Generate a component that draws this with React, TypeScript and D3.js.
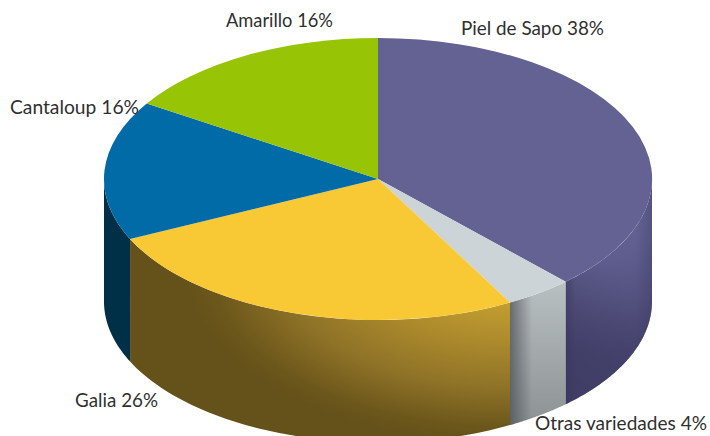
import React from "react";
import * as d3 from "d3";

const categories = ["Piel de Sapo", "Otras variedades", "Galia", "Cantaloup", "Amarillo"];
const values = [38, 4, 26, 16, 16];
const topColors = ["#636293", "#ccd4d8", "#f9c935", "#006ba6", "#98c406"];
const sideColors = ["#454368", "#8f9699", "#65521a", "#002f48", "#5f7a04"];
const labelX = [461, 535, 75, 10, 226];
const labelY = [35, 430, 407, 114, 27];
const labelW = [143, 172, 83, 129, 107];

const cx = 378, cy = 179, rx = 274, ry = 141, depth = 122.5;

const pie = d3.pie<number>().sort(null)(values);
const px = d3.scaleLinear().domain([-1, 1]).range([cx - rx, cx + rx]);
const py = d3.scaleLinear().domain([-1, 1]).range([cy - ry, cy + ry]);
const arcTop = d3.arc<d3.PieArcDatum<number>>().innerRadius(0).outerRadius(1);

function sidePath(a0: number, a1: number) {
  const s = Math.max(a0, Math.PI / 2);
  const e = Math.min(a1, (3 * Math.PI) / 2);
  if (e <= s) return null;
  const ang = d3.range(0, 61).map((i) => s + ((e - s) * i) / 60);
  const top = ang.map((a) => [px(Math.sin(a)), py(-Math.cos(a))] as [number, number]);
  const bot = ang.slice().reverse().map((a) => [px(Math.sin(a)), py(-Math.cos(a)) + depth] as [number, number]);
  return d3.line()([...top, ...bot]) + "Z";
}

export default function App() {
  return (
    <svg width={710} height={436} style={{ position: "absolute", left: 0, top: 0, display: "block" }}>
      <defs>
        <radialGradient id="g2" gradientUnits="userSpaceOnUse" cx={505} cy={265} r={320} gradientTransform="translate(505 265) scale(1 0.55) translate(-505 -265)">
          <stop offset="0" stopColor="#d8b035" />
          <stop offset="0.43" stopColor="#ad8b2c" />
          <stop offset="0.69" stopColor="#8f7327" />
          <stop offset="0.92" stopColor="#6c571b" />
          <stop offset="1" stopColor="#65521a" />
        </radialGradient>
        <linearGradient id="g1v" x1="0" y1="0" x2="0" y2="1">
          <stop offset="0" stopColor="#b9c0c2" />
          <stop offset="1" stopColor="#8c9294" />
        </linearGradient>
        <linearGradient id="g1h" gradientUnits="userSpaceOnUse" x1={510} x2={532} y1={0} y2={0}>
          <stop offset="0" stopColor="#454b4e" stopOpacity={0.7} />
          <stop offset="1" stopColor="#454b4e" stopOpacity={0} />
        </linearGradient>
        <linearGradient id="g0" gradientUnits="userSpaceOnUse" x1={640} y1={215} x2={535} y2={360}>
          <stop offset="0" stopColor="#636293" />
          <stop offset="0.35" stopColor="#5e5c8c" />
          <stop offset="0.55" stopColor="#575582" />
          <stop offset="0.8" stopColor="#4e4c77" />
          <stop offset="1" stopColor="#4a4870" />
        </linearGradient>
        <linearGradient id="g0h" gradientUnits="userSpaceOnUse" x1={565} x2={575} y1={0} y2={0}>
          <stop offset="0" stopColor="#35335a" stopOpacity={0.5} />
          <stop offset="1" stopColor="#35335a" stopOpacity={0} />
        </linearGradient>
        <radialGradient id="g0r" gradientUnits="userSpaceOnUse" cx={600} cy={215} r={140}>
          <stop offset="0.32" stopColor="#35335a" stopOpacity={0} />
          <stop offset="1" stopColor="#35335a" stopOpacity={0.5} />
        </radialGradient>
        <linearGradient id="g0e" gradientUnits="userSpaceOnUse" x1={635} x2={652} y1={0} y2={0}>
          <stop offset="0" stopColor="#35335a" stopOpacity={0} />
          <stop offset="1" stopColor="#35335a" stopOpacity={0.3} />
        </linearGradient>
      </defs>
      {pie.map((d, i) => {
        const p = sidePath(d.startAngle, d.endAngle);
        if (!p) return null;
        const fill = i === 0 ? "url(#g0)" : i === 1 ? "url(#g1v)" : i === 2 ? "url(#g2)" : sideColors[i];
        return (
          <g key={categories[i]}>
            <path d={p} fill={fill} />
            {i === 1 && <path d={p} fill="url(#g1h)" />}
            {i === 0 && <path d={p} fill="url(#g0h)" />}
            {i === 0 && <path d={p} fill="url(#g0r)" />}
            {i === 0 && <path d={p} fill="url(#g0e)" />}
          </g>
        );
      })}
      <g transform={`translate(${cx},${cy}) scale(${rx},${ry})`}>
        {pie.map((d, i) => (
          <path key={categories[i]} d={arcTop(d) as string} fill={topColors[i]} />
        ))}
      </g>
      {categories.map((c, i) => (
        <text key={c} x={labelX[i]} y={labelY[i]} fontFamily="Lato, 'Open Sans', sans-serif" fontSize={19} fill="#303030" textLength={labelW[i]} lengthAdjust="spacingAndGlyphs">
          {c} {values[i]}%
        </text>
      ))}
    </svg>
  );
}
